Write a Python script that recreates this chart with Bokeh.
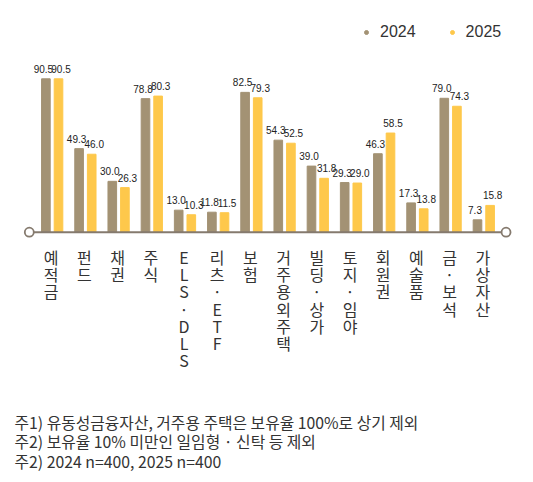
from bokeh.plotting import figure
from bokeh.models import Range1d, Label, Legend, LegendItem
from bokeh.core.properties import value
from bokeh.embed import file_html
from bokeh.resources import INLINE

# 자산 항목과 연도별 보유율(%)
cats = ["예적금", "펀드", "채권", "주식", "ELS·DLS", "리츠·ETF", "보험",
        "거주용외주택", "빌딩·상가", "토지·임야", "회원권", "예술품", "금·보석", "가상자산"]
v2024 = [90.5, 49.3, 30.0, 78.8, 13.0, 11.8, 82.5, 54.3, 39.0, 29.3, 46.3, 17.3, 79.0, 7.3]
v2025 = [90.5, 46.0, 26.3, 80.3, 10.3, 11.5, 79.3, 52.5, 31.8, 29.0, 58.5, 13.8, 74.3, 15.8]
years = ["2024", "2025"]
notes = [
    "주1) 유동성금융자산, 거주용 주택은 보유율 100%로 상기 제외",
    "주2) 보유율 10% 미만인 일임형 · 신탁 등 제외",
    "주2) 2024 n=400, 2025 n=400",
]

C24 = "#a39274"
C25 = "#fec84b"
TXT = "#333333"
W, H = 525, 474

# 픽셀 배치에 맞춘 축 범위
px_cat = 33.2
left_px = 51.7
px_unit = 1.695
base_px = 231.7

p = figure(width=W, height=H, output_backend="svg", toolbar_location=None,
           x_range=Range1d(-left_px / px_cat, (W - left_px) / px_cat),
           y_range=Range1d(-(H - base_px) / px_unit, base_px / px_unit),
           x_axis_location=None, y_axis_location=None, min_border=0,
           outline_line_color=None, background_fill_color="white")
p.grid.visible = False

xs = list(range(len(cats)))
x24 = [x - 0.19 for x in xs]
x25 = [x + 0.19 for x in xs]

p.vbar(x=x24, top=v2024, width=0.26, color=C24)
p.vbar(x=x25, top=v2025, width=0.26, color=C25)

# 기준선과 양끝 원
lx = [-0.69, len(cats) - 0.33]
p.line(lx, [0, 0], line_color="#857a6e", line_width=2)
p.scatter(lx, [0, 0], marker="circle", size=9, fill_color="white",
          line_color="#857a6e", line_width=1.8)

# 값 라벨
vfont = value("Liberation Sans")
p.text(x24, v2024, text=[f"{v:.1f}" for v in v2024], text_font=vfont,
       text_font_size="10px", text_color="#222222", text_align="center",
       text_baseline="alphabetic", x_offset=-2.5, y_offset=-10)
p.text(x25, v2025, text=[f"{v:.1f}" for v in v2025], text_font=vfont,
       text_font_size="10px", text_color="#222222", text_align="center",
       text_baseline="alphabetic", x_offset=2.5, y_offset=-10)

# 세로 항목명
p.text(xs, [-7.4] * len(cats), text=["\n".join(c) for c in cats],
       text_font=value("Noto Sans CJK KR"), text_font_size="16px",
       text_color=TXT, text_align="center", text_baseline="top",
       text_line_height=0.72, x_offset=-1)

# 범례
nan = float("nan")
r24 = p.scatter(x=[nan], y=[nan], marker="circle", size=9, color=C24)
r25 = p.scatter(x=[nan], y=[nan], marker="circle", size=9, color=C25)
legend = Legend(items=[LegendItem(label=years[0], renderers=[r24]),
                       LegendItem(label=years[1], renderers=[r25])],
                orientation="horizontal", location=(361, H - 41),
                padding=0, margin=0, spacing=31, glyph_width=10, glyph_height=10,
                label_standoff=9, label_text_font="Liberation Sans",
                label_text_font_size="16px", label_text_color=TXT,
                border_line_alpha=0, background_fill_alpha=0)
p.add_layout(legend)

# 주석
for i, t in enumerate(notes):
    p.add_layout(Label(x=14, y=H - 421.7 - 19.5 * i, x_units="screen", y_units="screen",
                       text=t, text_font="Noto Sans CJK KR",
                       text_font_size="15.8px", text_color=TXT,
                       text_baseline="middle"))

open("out.html", "w").write(file_html(p, INLINE))
